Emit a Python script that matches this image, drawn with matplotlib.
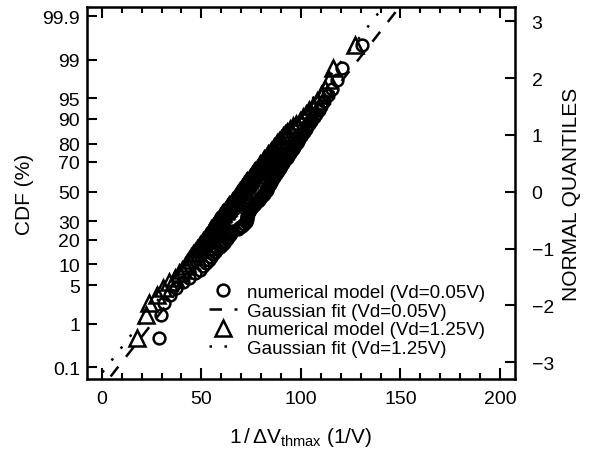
import matplotlib
matplotlib.use("Agg")
import matplotlib.pyplot as plt
import numpy as np
from statistics import NormalDist

plt.rcParams['font.family'] = ['Liberation Sans', 'DejaVu Sans']
plt.rcParams['mathtext.fontset'] = 'custom'
plt.rcParams['mathtext.rm'] = 'Liberation Sans'
plt.rcParams['mathtext.it'] = 'Liberation Sans:italic'

# sorted samples of 1/dVthmax (1/V), 100 devices each
x_vd005 = [28.8, 29.8, 31.5, 34.5, 37.5, 41.0, 44.0, 47.0, 49.5, 51.0,
           52.5, 53.8, 55.0, 56.0, 57.0, 58.0, 59.2, 60.3, 61.2, 62.0,
           62.8, 63.5, 64.2, 64.9, 65.6, 68.5, 69.5, 70.5, 71.5, 72.2,
           72.5, 72.7, 72.9, 73.1, 73.3, 73.5, 73.8, 74.2, 74.8, 75.5,
           76.2, 77.0, 77.7, 78.4, 79.0, 79.6, 80.2, 80.8, 81.3, 81.8,
           82.3, 82.8, 83.2, 83.6, 84.0, 84.4, 84.8, 85.2, 85.6, 86.0,
           86.5, 87.0, 87.5, 88.0, 88.5, 89.0, 89.6, 90.1, 90.6, 91.1,
           91.7, 92.2, 92.8, 93.4, 94.0, 94.6, 95.2, 95.8, 96.4, 97.1,
           97.8, 98.5, 99.2, 100.0, 100.8, 101.6, 102.4, 103.3, 104.3, 105.3,
           106.4, 107.6, 108.9, 110.2, 111.8, 113.6, 115.8, 118.0, 120.5, 130.5]
x_vd125 = [17.9, 22.1, 23.8, 27.5, 31.0, 34.0, 37.0, 39.0, 40.5, 41.8,
           43.0, 44.0, 45.0, 46.0, 46.9, 47.8, 48.6, 49.4, 50.2, 51.0,
           51.7, 52.4, 53.1, 53.8, 54.5, 55.1, 55.7, 56.3, 56.9, 57.5,
           58.1, 58.7, 59.3, 59.9, 60.5, 61.1, 61.7, 62.3, 62.9, 63.5,
           64.1, 64.7, 65.3, 65.8, 66.4, 66.9, 67.5, 68.0, 68.6, 69.1,
           69.6, 70.1, 70.6, 71.1, 71.6, 72.1, 72.6, 73.1, 73.7, 74.2,
           74.8, 75.4, 76.0, 76.6, 77.2, 77.8, 78.4, 79.0, 79.6, 80.3,
           80.9, 81.6, 82.3, 83.0, 83.7, 84.4, 85.1, 85.8, 86.6, 87.4,
           88.2, 89.1, 90.0, 91.0, 92.0, 93.2, 94.5, 96.0, 97.6, 99.3,
           100.9, 102.5, 104.2, 106.0, 108.0, 110.0, 112.2, 114.0, 116.0, 127.0]

# gaussian fits (mean, sigma)
fit_vd005 = (77.0, 22.3)
fit_vd125 = (70.0, 21.9)

cdf_ticks = [0.1, 1, 5, 10, 20, 30, 50, 70, 80, 90, 95, 99, 99.9]
cdf_labels = ['0.1', '1', '5', '10', '20', '30', '50', '70', '80', '90', '95', '99', '99.9']
quant_ticks = [-3, -2, -1, 0, 1, 2, 3]

nd = NormalDist()


def quantiles(n):
    # Hazen plotting positions
    return [nd.inv_cdf((i - 0.5) / n) for i in range(1, n + 1)]


fig = plt.figure(figsize=(6.03, 4.52), dpi=100)
ax = fig.add_axes([0.144, 0.159, 0.710, 0.823])

ax.plot(x_vd005, quantiles(len(x_vd005)), 'o', mfc='none', mec='black',
        ms=8.5, mew=1.8, label='numerical model (Vd=0.05V)')
qq = np.array([-3.6, 3.6])
ax.plot(fit_vd005[0] + fit_vd005[1] * qq, qq, color='black', lw=1.8,
        dashes=(5, 5), label='Gaussian fit (Vd=0.05V)')
ax.plot(x_vd125, quantiles(len(x_vd125)), '^', mfc='none', mec='black',
        ms=11, mew=1.8, label='numerical model (Vd=1.25V)')
ax.plot(fit_vd125[0] + fit_vd125[1] * qq, qq, color='black', lw=1.8,
        linestyle=(0, (1, 5)), label='Gaussian fit (Vd=1.25V)')

ax.set_xlim(-7.5, 207.5)
ax.set_ylim(-3.3, 3.25)
ax.set_xticks([0, 50, 100, 150, 200])
ax.set_xticks(np.arange(0, 201, 10), minor=True)
ax.set_yticks([nd.inv_cdf(p / 100) for p in cdf_ticks])
ax.set_yticklabels(cdf_labels)
ax.tick_params(axis='both', which='both', direction='in', labelsize=14, width=1.5)
ax.tick_params(axis='x', which='both', top=True)
ax.tick_params(axis='x', which='major', length=8, pad=8)
ax.tick_params(axis='x', which='minor', length=4)
ax.tick_params(axis='y', which='major', length=7, pad=5)
for s in ax.spines.values():
    s.set_linewidth(1.8)

ax2 = ax.twinx()
ax2.set_ylim(ax.get_ylim())
ax2.set_yticks(quant_ticks)
ax2.set_yticklabels(['\u22123', '\u22122', '\u22121', '0', '1', '2', '3'])
ax2.tick_params(axis='y', direction='in', length=7, width=1.5, labelsize=14, pad=12)

ax.set_xlabel(r'$1\,/\,\Delta\mathrm{V}_{\mathrm{thmax}}$ (1/V)', fontsize=15, labelpad=13)
ax.set_ylabel('CDF (%)', fontsize=15, labelpad=6)
ax2.set_ylabel('NORMAL QUANTILES', fontsize=15, labelpad=6)

ax.legend(loc='lower right', bbox_to_anchor=(0.93, 0.06), frameon=False,
          fontsize=13.5, handlelength=1.5, handletextpad=0.5, labelspacing=0.08,
          borderaxespad=0.0, borderpad=0.0)

fig.savefig('out.png', dpi=100)
